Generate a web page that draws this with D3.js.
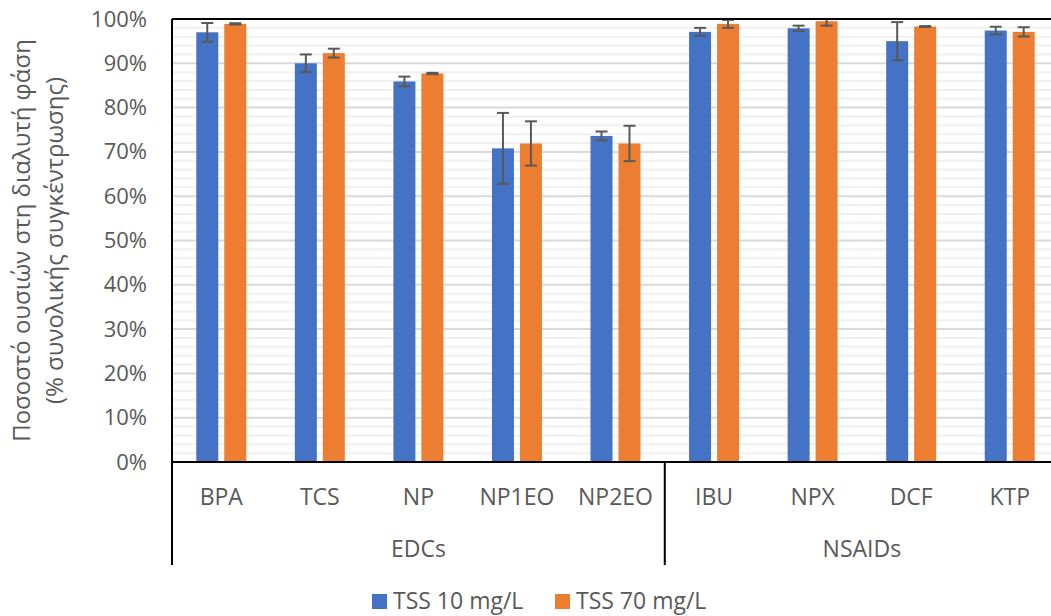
<!DOCTYPE html>
<html>
<head>
<meta charset="utf-8">
<script src="https://cdn.jsdelivr.net/npm/d3@7"></script>
<style>
  body { margin: 0; background: #fff; }
  text { font-family: 'Open Sans', sans-serif; fill: #595959; }
</style>
</head>
<body>
<div id="graphs"></div>
<script>
const categories = ['BPA', 'TCS', 'NP', 'NP1EO', 'NP2EO', 'IBU', 'NPX', 'DCF', 'KTP'];
const groups = [
  {name: 'EDCs', members: ['BPA', 'TCS', 'NP', 'NP1EO', 'NP2EO']},
  {name: 'NSAIDs', members: ['IBU', 'NPX', 'DCF', 'KTP']}
];
const seriesNames = ['TSS 10 mg/L', 'TSS 70 mg/L'];
const tss10 = [97.0, 90.0, 85.9, 70.8, 73.6, 97.1, 97.9, 95.0, 97.4];
const tss70 = [98.9, 92.3, 87.7, 71.9, 71.9, 98.9, 99.5, 98.3, 97.1];
const err10 = [2.1, 2.0, 1.1, 8.0, 1.0, 0.9, 0.6, 4.3, 0.85];
const err70 = [0.15, 1.0, 0.15, 5.0, 4.0, 0.9, 1.0, 0.1, 1.05];
const yTicks = [0, 10, 20, 30, 40, 50, 60, 70, 80, 90, 100];
const colors = ['#4472C4', '#ED7D31'];

const width = 1051;
const height = 616;
const margin = {top: 19, bottom: 154, left: 172, right: -8};
const plotBottom = height - margin.bottom;

const svg = d3.select('#graphs')
  .append('svg')
  .attr('width', width)
  .attr('height', height)
  .attr('viewBox', [0, 0, width, height]);

const x = d3.scaleBand()
  .domain(categories)
  .range([margin.left, width - margin.right])
  .paddingInner(0.493)
  .paddingOuter(0.2465);

const x1 = d3.scaleBand()
  .domain([0, 1])
  .range([0, x.bandwidth()])
  .paddingInner(0.214);

const y = d3.scaleLinear()
  .domain([0, 100])
  .range([plotBottom, margin.top]);

// gridlines
svg.append('g')
  .selectAll('line')
  .data(d3.range(0, 101, 2))
  .join('line')
  .attr('x1', margin.left)
  .attr('x2', width - margin.right)
  .attr('y1', d => y(d))
  .attr('y2', d => y(d))
  .attr('stroke', d => d % 10 === 0 ? '#d9d9d9' : '#f0f0f0')
  .attr('stroke-width', 2);

svg.append('clipPath').attr('id', 'plot')
  .append('rect')
  .attr('x', margin.left).attr('y', margin.top)
  .attr('width', width - margin.right - margin.left)
  .attr('height', plotBottom - margin.top);

const rows = categories.map((c, i) => ({
  cat: c,
  vals: [{s: 0, v: tss10[i], e: err10[i]}, {s: 1, v: tss70[i], e: err70[i]}]
}));

const cat = svg.append('g')
  .attr('clip-path', 'url(#plot)')
  .selectAll('g')
  .data(rows)
  .join('g')
  .attr('transform', d => `translate(${x(d.cat)},0)`);

cat.selectAll('rect')
  .data(d => d.vals)
  .join('rect')
  .attr('x', d => x1(d.s))
  .attr('y', d => y(d.v))
  .attr('width', x1.bandwidth())
  .attr('height', d => y(0) - y(d.v))
  .attr('fill', d => colors[d.s]);

// error bars
const eb = cat.selectAll('g.err')
  .data(d => d.vals)
  .join('g')
  .attr('class', 'err')
  .attr('stroke', '#595959')
  .attr('stroke-width', 2);

eb.append('line')
  .attr('x1', d => x1(d.s) + x1.bandwidth() / 2)
  .attr('x2', d => x1(d.s) + x1.bandwidth() / 2)
  .attr('y1', d => y(d.v - d.e))
  .attr('y2', d => y(d.v + d.e));

[-1, 1].forEach(sign => {
  eb.append('line')
    .attr('x1', d => x1(d.s) + x1.bandwidth() / 2 - 6)
    .attr('x2', d => x1(d.s) + x1.bandwidth() / 2 + 6)
    .attr('y1', d => y(d.v + sign * d.e))
    .attr('y2', d => y(d.v + sign * d.e));
});

// y axis labels
svg.append('g')
  .attr('transform', `translate(${margin.left - 25},0)`)
  .call(d3.axisLeft(y).tickValues(yTicks).tickSize(0).tickFormat(d => d + '%'))
  .call(g => g.select('.domain').remove())
  .call(g => g.selectAll('text')
    .attr('x', 0)
    .attr('font-size', '22px')
    .attr('font-family', 'Open Sans')
    .attr('fill', '#595959'));

// category labels
svg.append('g')
  .attr('transform', `translate(0,${plotBottom})`)
  .call(d3.axisBottom(x).tickSize(0))
  .call(g => g.select('.domain').remove())
  .call(g => g.selectAll('text')
    .attr('y', 0)
    .attr('dy', 0)
    .attr('transform', 'translate(0,43)')
    .attr('font-size', '23px')
    .attr('font-family', 'Open Sans')
    .attr('fill', '#595959'));

// group labels and dividers
const bounds = groups.map(g => {
  const first = x(g.members[0]) - x.step() * x.paddingInner() / 2;
  const last = x(g.members[g.members.length - 1]) + x.bandwidth() + x.step() * x.paddingInner() / 2;
  return {name: g.name, x0: first, x1: last};
});

svg.append('g')
  .selectAll('text')
  .data(bounds)
  .join('text')
  .attr('x', d => (d.x0 + d.x1) / 2)
  .attr('y', plotBottom + 95)
  .attr('text-anchor', 'middle')
  .attr('font-size', '23px')
  .text(d => d.name);

const frame = svg.append('g').attr('stroke', '#000').attr('stroke-width', 2);
frame.append('line')
  .attr('x1', margin.left).attr('x2', width - margin.right)
  .attr('y1', margin.top).attr('y2', margin.top);
frame.append('line')
  .attr('x1', margin.left).attr('x2', width - margin.right)
  .attr('y1', plotBottom).attr('y2', plotBottom);
frame.append('line')
  .attr('x1', margin.left).attr('x2', margin.left)
  .attr('y1', margin.top).attr('y2', plotBottom + 103);
frame.selectAll('line.div')
  .data(bounds)
  .join('line')
  .attr('class', 'div')
  .attr('x1', d => d.x1).attr('x2', d => d.x1)
  .attr('y1', plotBottom).attr('y2', plotBottom + 103);

// y axis title
const title = svg.append('text')
  .attr('transform', `translate(0,${(margin.top + plotBottom) / 2}) rotate(-90)`)
  .attr('text-anchor', 'middle')
  .attr('font-size', '24px');
title.append('tspan').attr('x', 0).attr('y', 30).text('Ποσοστό ουσιών στη διαλυτή φάση');
title.append('tspan').attr('x', 0).attr('y', 63).text('(% συνολικής συγκέντρωσης)');

// legend
const legendX = [372, 555];
const legend = svg.append('g')
  .selectAll('g')
  .data(seriesNames)
  .join('g')
  .attr('transform', (d, i) => `translate(${legendX[i]},594)`);
legend.append('rect')
  .attr('width', 15).attr('height', 15)
  .attr('fill', (d, i) => colors[i]);
legend.append('text')
  .attr('x', 21).attr('y', 15)
  .attr('font-size', '23px')
  .text(d => d);
</script>
</body>
</html>
